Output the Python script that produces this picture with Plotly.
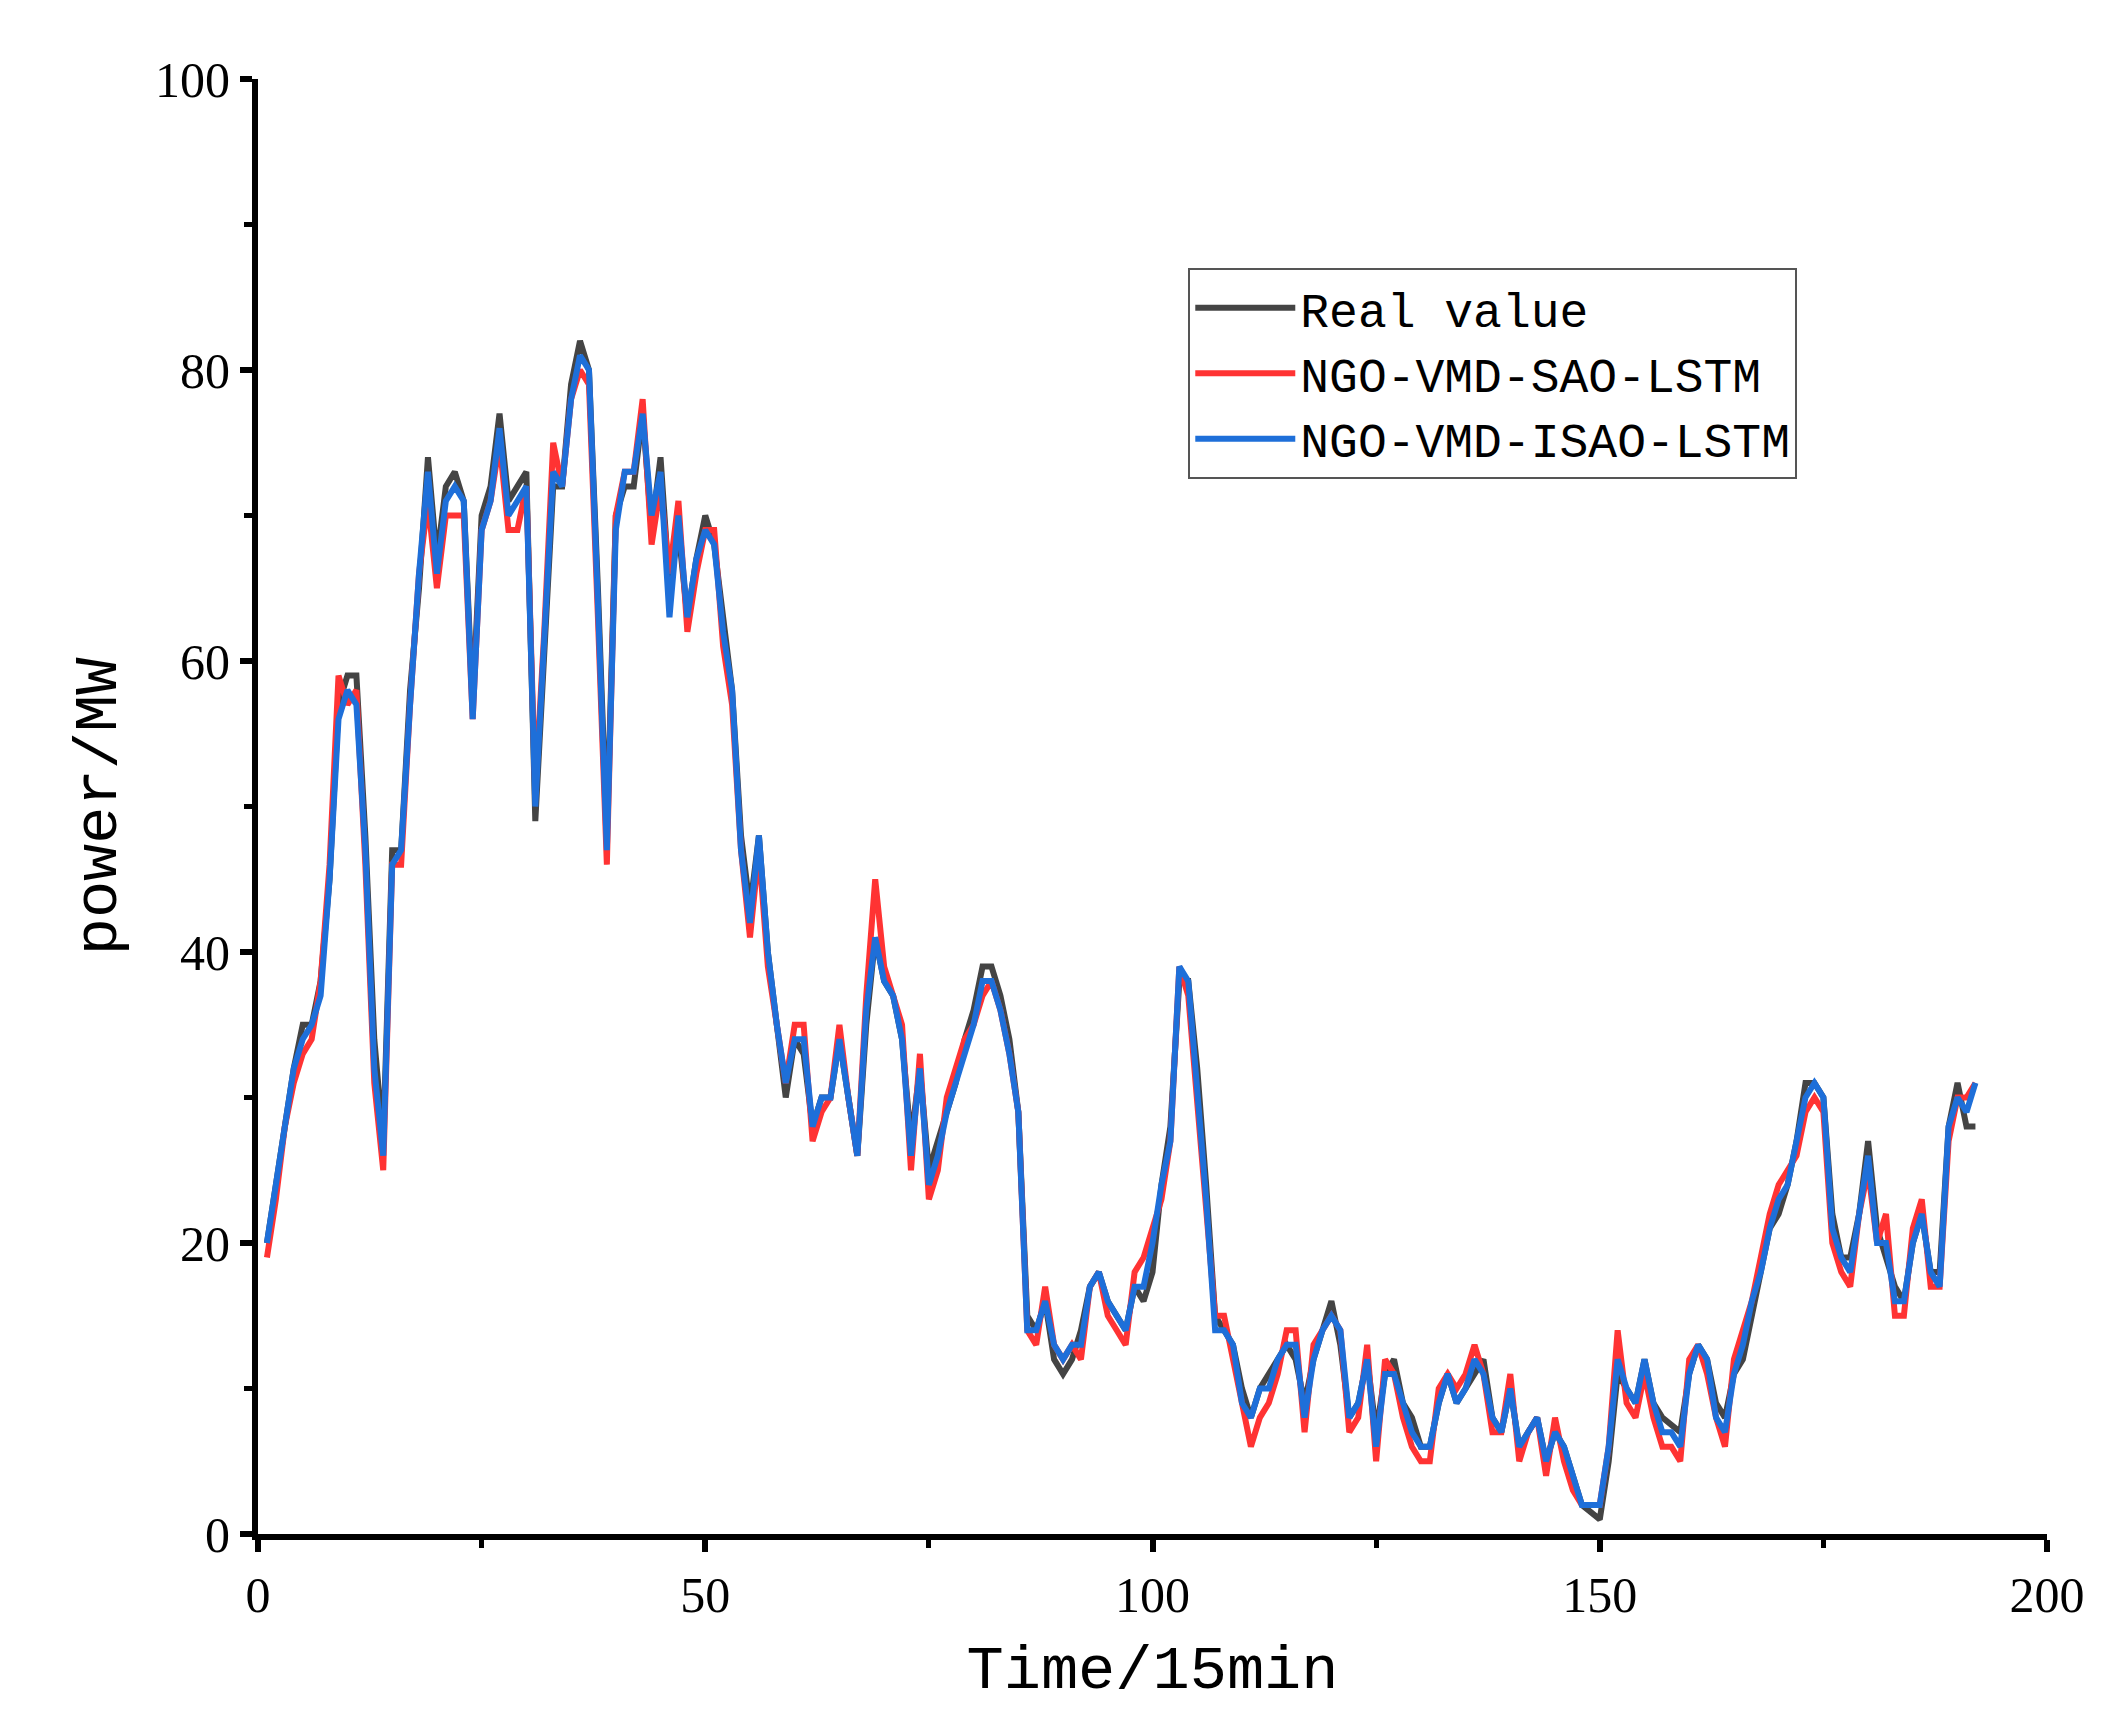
import plotly.graph_objects as go

t = list(range(1, 193))

real = [20, 24, 28, 32, 35, 35, 38, 45, 57, 59, 59, 48, 34, 27, 47, 47, 58, 65, 74, 67,
        72, 73, 71, 57, 70, 72, 77, 71, 72, 73, 49, 60, 72, 72, 79, 82, 80, 65, 48, 70,
        72, 72, 77, 69, 74, 65, 69, 63, 67, 70, 68, 63, 58, 48, 43, 48, 40, 35, 30, 34,
        33, 28, 30, 30, 34, 30, 26, 35, 41, 38, 37, 34, 27, 32, 25, 27, 29, 31, 34, 36,
        39, 39, 37, 34, 29, 15, 14, 16, 12, 11, 12, 14, 17, 18, 16, 15, 14, 17, 16, 18,
        24, 28, 38, 38, 32, 24, 15, 14, 13, 10, 8, 10, 11, 12, 13, 12, 9, 12, 14, 16,
        13, 8, 9, 12, 7, 11, 12, 9, 8, 6, 6, 9, 11, 9, 10, 11, 12, 8, 7, 10,
        6, 7, 8, 5, 7, 6, 4, 2, 1.5, 1, 5, 11, 10, 9, 12, 9, 8, 7.5, 7, 11,
        13, 12, 9, 8, 11, 12, 15, 18, 21, 22, 24, 27, 31, 31, 30, 22, 19, 19, 22, 27,
        21, 19, 17, 16, 20, 22, 18, 18, 28, 31, 28, 28]

sao = [19, 23, 28, 31, 33, 34, 38, 46, 59, 57, 58, 46, 31, 25, 46, 46, 57, 66, 71, 65,
       70, 70, 70, 56, 69, 71, 75, 69, 69, 72, 51, 62, 75, 72, 78, 80, 79, 63, 46, 70,
       73, 73, 78, 68, 72, 66, 71, 62, 66, 69, 69, 61, 57, 47, 41, 47, 39, 35, 31, 35,
       35, 27, 29, 30, 35, 30, 26, 37, 45, 39, 37, 35, 25, 33, 23, 25, 30, 32, 34, 35,
       37, 38, 36, 33, 29, 14, 13, 17, 13, 12, 13, 12, 17, 18, 15, 14, 13, 18, 19, 21,
       23, 27, 39, 37, 30, 22, 15, 15, 12, 9, 6, 8, 9, 11, 14, 14, 7, 13, 14, 15,
       14, 7, 8, 13, 5, 12, 11, 8, 6, 5, 5, 10, 11, 10, 11, 13, 11, 7, 7, 11,
       5, 7, 8, 4, 8, 5, 3, 2, 2, 2, 6, 14, 9, 8, 11, 8, 6, 6, 5, 12,
       13, 11, 8, 6, 12, 14, 16, 19, 22, 24, 25, 26, 29, 30, 29, 20, 18, 17, 22, 25,
       20, 22, 15, 15, 21, 23, 17, 17, 27, 30, 30, 31]

isao = [20, 24, 28, 32, 34, 35, 37, 45, 56, 58, 57, 47, 32, 26, 46, 47, 57, 66, 73, 66,
        71, 72, 71, 56, 69, 71, 76, 70, 71, 72, 50, 61, 73, 72, 78, 81, 80, 64, 47, 69,
        73, 73, 77, 70, 73, 63, 70, 63, 67, 69, 68, 62, 58, 47, 42, 48, 40, 35, 31, 34,
        34, 28, 30, 30, 34, 30, 26, 36, 41, 38, 37, 34, 26, 32, 24, 26, 29, 31, 33, 35,
        38, 38, 36, 33, 29, 14, 14, 16, 13, 12, 13, 13, 17, 18, 16, 15, 14, 17, 17, 20,
        24, 27, 39, 38, 31, 23, 14, 14, 13, 9, 8, 10, 10, 12, 13, 13, 8, 12, 14, 15,
        14, 8, 9, 12, 6, 11, 11, 9, 7, 6, 6, 9, 11, 9, 10, 12, 11, 8, 7, 10,
        6, 7, 8, 5, 7, 6, 4, 2, 2, 2, 6, 12, 10, 9, 12, 9, 7, 7, 6, 11,
        13, 12, 8, 7, 11, 13, 16, 18, 21, 23, 24, 27, 30, 31, 30, 21, 19, 18, 22, 26,
        20, 20, 16, 16, 20, 22, 18, 17, 28, 30, 29, 31]

series = [("Real value", real, "#444444"),
          ("NGO-VMD-SAO-LSTM", sao, "#ff3333"),
          ("NGO-VMD-ISAO-LSTM", isao, "#1e6fd9")]

fig = go.Figure()
for name, vals, color in series:
    fig.add_trace(go.Scatter(x=t, y=vals, name=name, mode="lines",
                             line=dict(color=color, width=6)))

axis_common = dict(showline=True, linecolor="black", linewidth=6, mirror=False,
                   ticks="outside", ticklen=12, tickwidth=6, tickcolor="black",
                   showgrid=False, zeroline=False,
                   tickfont=dict(family="Liberation Serif", size=50, color="black"),
                   title_font=dict(family="Liberation Mono", size=62, color="black"))

fig.update_layout(
    width=2117, height=1728,
    paper_bgcolor="white", plot_bgcolor="white",
    margin=dict(l=250, r=78, t=71, b=202),
    xaxis=dict(range=[0, 200], tickvals=[0, 50, 100, 150, 200],
               minor=dict(tickvals=[25, 75, 125, 175], ticks="outside", ticklen=8,
                          tickwidth=5, tickcolor="black"),
               title_text="Time/15min", title_standoff=25, **axis_common),
    yaxis=dict(range=[0, 100], tickvals=[0, 20, 40, 60, 80, 100],
               minor=dict(tickvals=[10, 30, 50, 70, 90], ticks="outside", ticklen=8,
                          tickwidth=5, tickcolor="black"),
               title_text="power/MW", title_standoff=20, **axis_common),
    legend=dict(x=0.52, y=0.87, xanchor="left", yanchor="top",
                bgcolor="white", bordercolor="#555555", borderwidth=2,
                font=dict(family="Liberation Mono", size=48, color="black"),
                itemwidth=100),
)

fig.write_html("out.html")
